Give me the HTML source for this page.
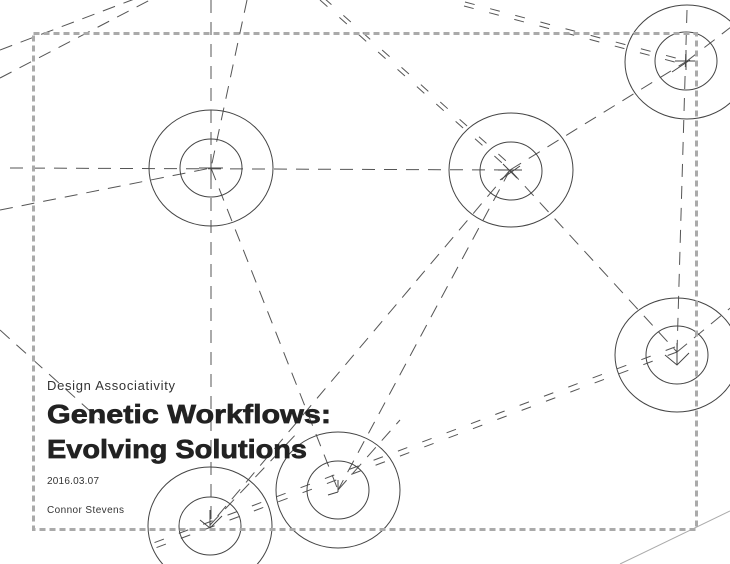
<!DOCTYPE html>
<html><head><meta charset="utf-8"><style>
html,body{margin:0;padding:0;background:#fff;}
svg{display:block;}
</style></head><body>
<svg width="730" height="564" viewBox="0 0 730 564" xmlns="http://www.w3.org/2000/svg">
<g fill="none" stroke="#555" stroke-width="1" stroke-dasharray="13,9">
  <line x1="211" y1="0" x2="211" y2="525"/>
  <line x1="10" y1="168" x2="510" y2="170"/>
  <line x1="247" y1="0" x2="211" y2="168"/>
  <line x1="211" y1="168" x2="338" y2="490"/>
  <line x1="0" y1="210" x2="211" y2="168"/>
  <line x1="0" y1="50" x2="145" y2="-5"/>
  <line x1="0" y1="78" x2="150" y2="0"/>
  <line x1="510" y1="170" x2="687" y2="61"/>
  <line x1="510" y1="170" x2="677" y2="352"/>
  <line x1="510" y1="170" x2="210" y2="525"/>
  <line x1="510" y1="170" x2="338" y2="490"/>
  <line x1="687" y1="10" x2="677" y2="352"/>
  <line x1="687" y1="61" x2="740" y2="20"/>
  <line x1="677" y1="352" x2="740" y2="300"/>
  <line x1="0" y1="330" x2="100" y2="420"/>
  <line x1="210" y1="525" x2="300" y2="430"/>
  <line x1="338" y1="490" x2="400" y2="420"/>
</g>
<g fill="none" stroke="#555" stroke-width="1" stroke-dasharray="10,16">
  <line x1="320" y1="0" x2="510" y2="170"/>
  <line x1="324" y1="-2" x2="514" y2="168"/>
  <line x1="465" y1="2" x2="687" y2="61"/>
  <line x1="464" y1="6" x2="686" y2="65"/>
  <line x1="677" y1="352" x2="150" y2="550"/>
  <line x1="675" y1="347" x2="148" y2="545"/>
</g>
<g fill="none" stroke="#444" stroke-width="1">
  <ellipse cx="211" cy="168" rx="62" ry="58"/>
  <ellipse cx="211" cy="168" rx="31" ry="29"/>
  <ellipse cx="511" cy="170" rx="62" ry="57"/>
  <ellipse cx="511" cy="171" rx="31" ry="29"/>
  <ellipse cx="687" cy="62" rx="62" ry="57"/>
  <ellipse cx="686" cy="61" rx="31" ry="29"/>
  <ellipse cx="677" cy="355" rx="62" ry="57"/>
  <ellipse cx="677" cy="355" rx="31" ry="29"/>
  <ellipse cx="338" cy="490" rx="62" ry="58"/>
  <ellipse cx="338" cy="490" rx="31" ry="29"/>
  <ellipse cx="210" cy="526" rx="62" ry="59"/>
  <ellipse cx="210" cy="526" rx="31" ry="29"/>
  <path d="M199 168h24M211 156v24M498 170h24M500 180l20-14M503 164l14 14M675 61h20M672 72l18-12M686 50v20M665 355l12 10l12-12M677 343v22M328 495l10-3M338 480v12M200 520l10 8l12-12M210 510v18"/>
</g>
<line x1="620" y1="564" x2="730" y2="511" stroke="#aaa" stroke-width="1"/>
<rect x="33.5" y="33.5" width="663" height="496" fill="none" stroke="#aaa" stroke-width="3" stroke-dasharray="6,4"/>
<g font-family="'Liberation Sans', sans-serif" fill="#222">
  <text x="47" y="390" font-size="13" fill="#333" textLength="128">Design Associativity</text>
  <text x="47" y="423" font-size="26" font-weight="bold" stroke="#222" stroke-width="0.7" textLength="284" lengthAdjust="spacingAndGlyphs">Genetic Workflows:</text>
  <text x="47" y="458" font-size="26" font-weight="bold" stroke="#222" stroke-width="0.7" textLength="260" lengthAdjust="spacingAndGlyphs">Evolving Solutions</text>
  <text x="47" y="484" font-size="10" fill="#333" textLength="52">2016.03.07</text>
  <text x="47" y="513" font-size="10" fill="#333" textLength="77">Connor Stevens</text>
</g>
</svg>
</body></html>
